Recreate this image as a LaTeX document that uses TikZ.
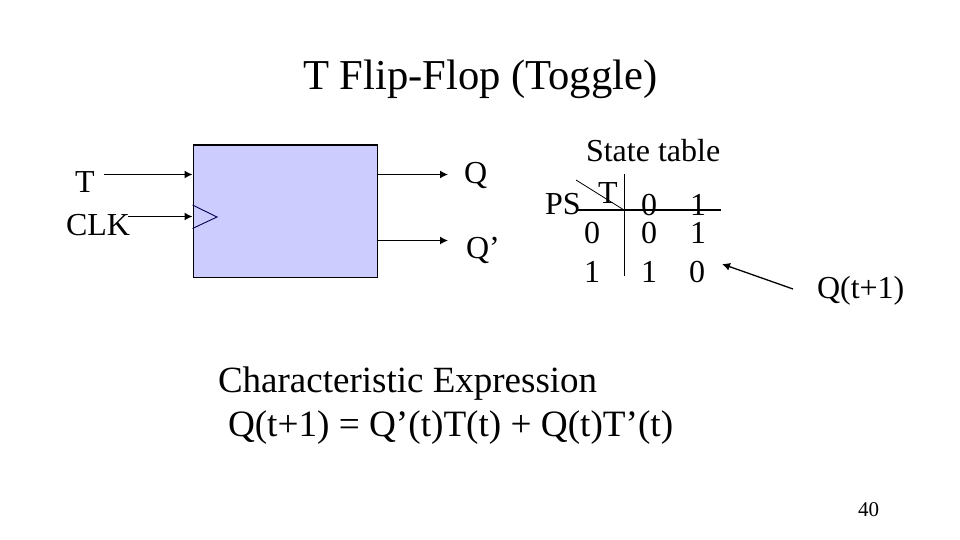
\documentclass[tikz,border=0pt]{standalone}
\usepackage{fontspec}
\setmainfont{Liberation Serif}
\usetikzlibrary{arrows.meta}
\definecolor{ffblue}{HTML}{CCCCFF}
\tikzset{
  x=1pt,y=-1pt,
  lab/.style={anchor=base west,inner sep=0pt,outer sep=0pt,font=\fontsize{32}{36}\selectfont},
  biglab/.style={lab,font=\fontsize{37}{42}\selectfont},
  eqlab/.style={lab,font=\fontsize{37.2}{42}\selectfont},
  titlelab/.style={lab,font=\fontsize{42.6}{48}\selectfont},
  smalllab/.style={lab,font=\fontsize{21}{24}\selectfont},
  wire/.style={line width=1.3pt,-{Latex[length=8pt,width=8pt]}},
  rule/.style={line width=1.2pt},
  ffbox/.style={draw=black,line width=1.3pt,fill=ffblue,inner sep=0pt,minimum width=184pt,minimum height=132pt,anchor=north west},
}
\begin{document}
\begin{tikzpicture}
\useasboundingbox (0,0) rectangle (960,540);
\fill[white] (0,0) rectangle (960,540);
\node[titlelab] (title) at (303,90) {T Flip-Flop (Toggle)};
\node[ffbox] (ff) at (192.5,144.5) {};
\coordinate (clkA) at (192.5,205);
\coordinate (clkB) at (217,217);
\coordinate (clkC) at (192.5,228.5);
\draw[line width=0.9pt,draw=black!70!blue] (clkA) -- (clkB) -- (clkC);
\node[lab] (t) at (75,193) {T};
\node[lab] (clk) at (66,235) {CLK};
\node[lab] (q) at (464,183) {Q};
\node[lab] (qp) at (466,258) {Q’};
\coordinate (tS) at (104,174.5);
\coordinate (tE) at (192.5,174.5);
\coordinate (cS) at (128,216.5);
\coordinate (cE) at (192.5,216.5);
\coordinate (qS) at (376.5,174.5);
\coordinate (qE) at (448,174.5);
\coordinate (pS) at (376.5,240.5);
\coordinate (pE) at (448,240.5);
\draw[wire] (tS) -- (tE);
\draw[wire] (cS) -- (cE);
\draw[wire] (qS) -- (qE);
\draw[wire] (pS) -- (pE);
\node[lab] (st) at (586,161) {State table};
\node[lab] (ps) at (545,214) {PS};
\node[lab] (tt) at (598,204) {T};
\node[lab] (h0) at (641,215) {0};
\node[lab] (h1) at (690,215) {1};
\node[lab] (r00) at (584,243) {0};
\node[lab] (r01) at (641,243) {0};
\node[lab] (r02) at (690,243) {1};
\node[lab] (r10) at (584,282) {1};
\node[lab] (r11) at (641,282) {1};
\node[lab] (r12) at (689,282) {0};
\coordinate (hS) at (578,210);
\coordinate (hE) at (721,210);
\coordinate (vS) at (624.5,174);
\coordinate (vE) at (624.5,276);
\coordinate (dS) at (576,180);
\coordinate (dE) at (624,210);
\draw[rule] (hS) -- (hE);
\draw[rule] (vS) -- (vE);
\draw[line width=0.8pt] (dS) -- (dE);
\node[lab] (qt) at (817,298) {Q(t+1)};
\coordinate (aS) at (793,289);
\coordinate (aE) at (722,264);
\draw[wire] (aS) -- (aE);
\node[biglab] (ce) at (218,392) {Characteristic Expression};
\node[eqlab] (eq) at (228,436) {Q(t+1) = Q’(t)T(t) + Q(t)T’(t)};
\node[smalllab] (pg) at (858,516) {40};
\end{tikzpicture}
\end{document}
